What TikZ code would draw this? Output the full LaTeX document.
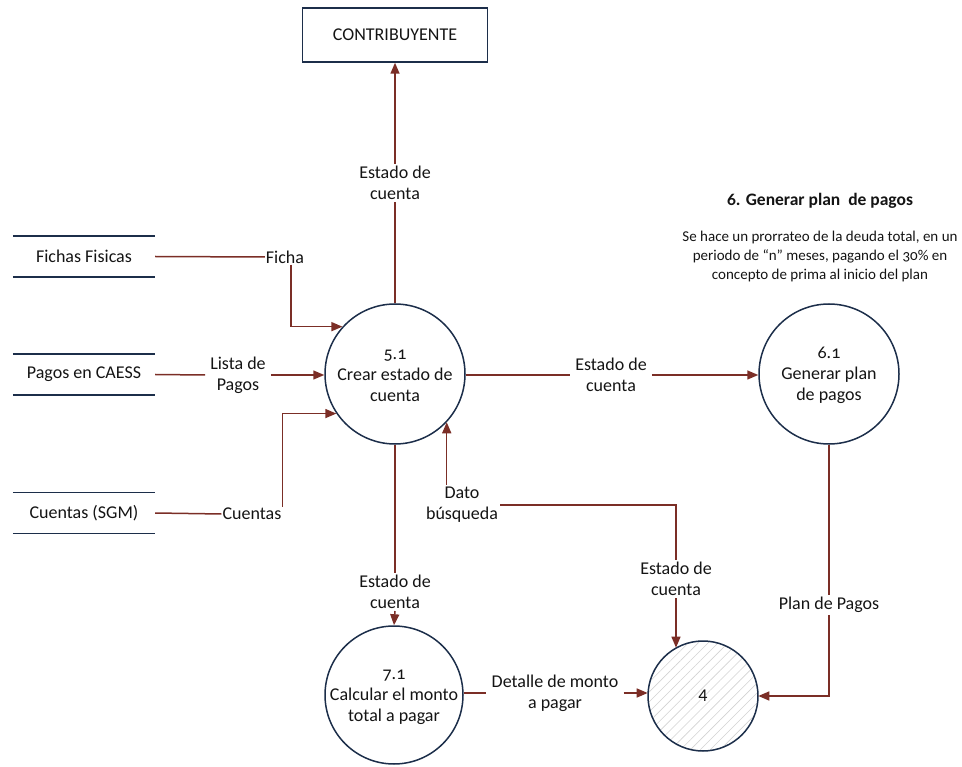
\documentclass[tikz,border=0pt]{standalone}
\usepackage{fontspec}
\setmainfont{Carlito}[Numbers=OldStyle]
\usetikzlibrary{arrows.meta,patterns.meta}

\definecolor{flow}{HTML}{7B2E26}
\definecolor{edge}{HTML}{1C2E4A}
\definecolor{ink}{HTML}{141414}

\begin{document}
\begin{tikzpicture}[x=1pt,y=-1pt,
  txt/.style={font=\fontsize{18}{21}\selectfont,text=ink},
  proc/.style={circle,draw=edge,line width=1.5pt,minimum size=140pt,inner sep=0pt},
  proctext/.style={txt,align=center,inner sep=0pt},
  lbl/.style={txt,align=center,inner sep=2pt},
  store/.style={txt,minimum width=142pt,minimum height=41pt,inner sep=0pt},
  storeline/.style={draw=edge,line width=1.5pt},
  flowline/.style={draw=flow,line width=1.5pt},
  arr/.style={flowline,-{Triangle[length=11pt,width=9pt]}},
]
\useasboundingbox (0,0) rectangle (962,767);

% external entity
\node[txt,draw=edge,line width=1.5pt,minimum width=185pt,minimum height=54pt]
  (ent) at (395,35) {CONTRIBUYENTE};

% processes: fixed-size circles with their captions on top
\node[proc] (p51) at (395,374) {};
\node[proctext] (p51t) at (395,376) {5.1\\Crear estado de\\cuenta};
\node[proc] (p61) at (829,374) {};
\node[proctext] (p61t) at (829,375) {6.1\\Generar plan\\de pagos};
\node[proc,minimum size=138pt] (p71) at (394,695) {};
\node[proctext] (p71t) at (394,697) {7.1\\Calcular el monto\\total a pagar};
\node[txt,circle,draw=edge,line width=1.5pt,minimum size=110pt,inner sep=0pt,
  pattern={Lines[angle=45,distance=7pt,line width=0.6pt]},pattern color=gray!35]
  (d4) at (703,696) {\addfontfeatures{Numbers=Lining}4};

% data stores
\node[store] (sF) at (84,256.5) {Fichas Fisicas};
\node[store] (sP) at (84,374.5) {Pagos en CAESS};
\node[store] (sC) at (84,513) {Cuentas (SGM)};
\foreach \s in {sF,sP,sC}{
  \draw[storeline] (\s.north west) -- (\s.north east);
  \draw[storeline] (\s.south west) -- (\s.south east);
}

% side note for process 6
\node[font=\bfseries\fontsize{17.5}{20}\selectfont,text=ink] (title) at (820,201)
  {6. Generar plan\ \ de pagos};
\node[font=\fontsize{15}{19}\selectfont,text=ink,align=center] (desc) at (820,257)
  {Se hace un prorrateo de la deuda total, en un\\periodo de “n” meses, pagando el 30\% en\\concepto de prima al inicio del plan};

% flow labels
\node[lbl,inner sep=1pt] (lFicha) at (285,257) {Ficha};
\node[lbl,inner sep=5pt] (lLista) at (238,375) {Lista de\\Pagos};
\node[lbl,inner sep=1pt] (lCuentas) at (252,514) {Cuentas};
\node[lbl] (lEC1) at (395,183) {Estado de\\cuenta};
\node[lbl,inner sep=5pt] (lEC4) at (611,375) {Estado de\\cuenta};
\node[lbl] (lEC2) at (395,592) {Estado de\\cuenta};
\node[lbl] (lDato) at (462,505) {Dato\\búsqueda};
\node[lbl] (lEC3) at (676,579) {Estado de\\cuenta};
\node[lbl] (lPlan) at (829,605) {Plan de Pagos};
\node[lbl,inner sep=5pt] (lDet) at (555,693) {Detalle de monto\\a pagar};

% flows into 5.1
\draw[flowline] (sF.east) -- (lFicha.west);
\draw[arr] ([xshift=6pt]lFicha.south) |- (p51.138);
\draw[flowline] (sP.east) -- (lLista.west);
\draw[arr] (lLista.east) -- (lLista.east -| p51.west);
\draw[flowline] (sC.east) -- (lCuentas.west);
\draw[arr] (lCuentas.north east) |- (p51.214);
\draw[arr] (lDato.north -| p51.317) -- (p51.317);

% flows out of 5.1
\draw[flowline] (p51.north) -- (lEC1.south);
\draw[arr] (lEC1.north) -- (ent.south);
\draw[flowline] (lEC4.west -| p51.east) -- (lEC4.west);
\draw[arr] (lEC4.east) -- (lEC4.east -| p61.west);
\draw[flowline] (p51.south) -- (lEC2.north);
\draw[arr] (lEC2.south) -- (p71.north);

% flows into store 4
\draw[flowline] (lDato.east) -| (lEC3.north);
\draw[arr] (lEC3.south) -- (lEC3.south |- d4.119);
\draw[flowline] (p61.south) -- (lPlan.north);
\draw[arr] (lPlan.south) |- (d4.east);
\draw[flowline] (lDet.west -| p71.east) -- (lDet.west);
\draw[arr] (lDet.east) -- (lDet.east -| d4.west);
\end{tikzpicture}
\end{document}
